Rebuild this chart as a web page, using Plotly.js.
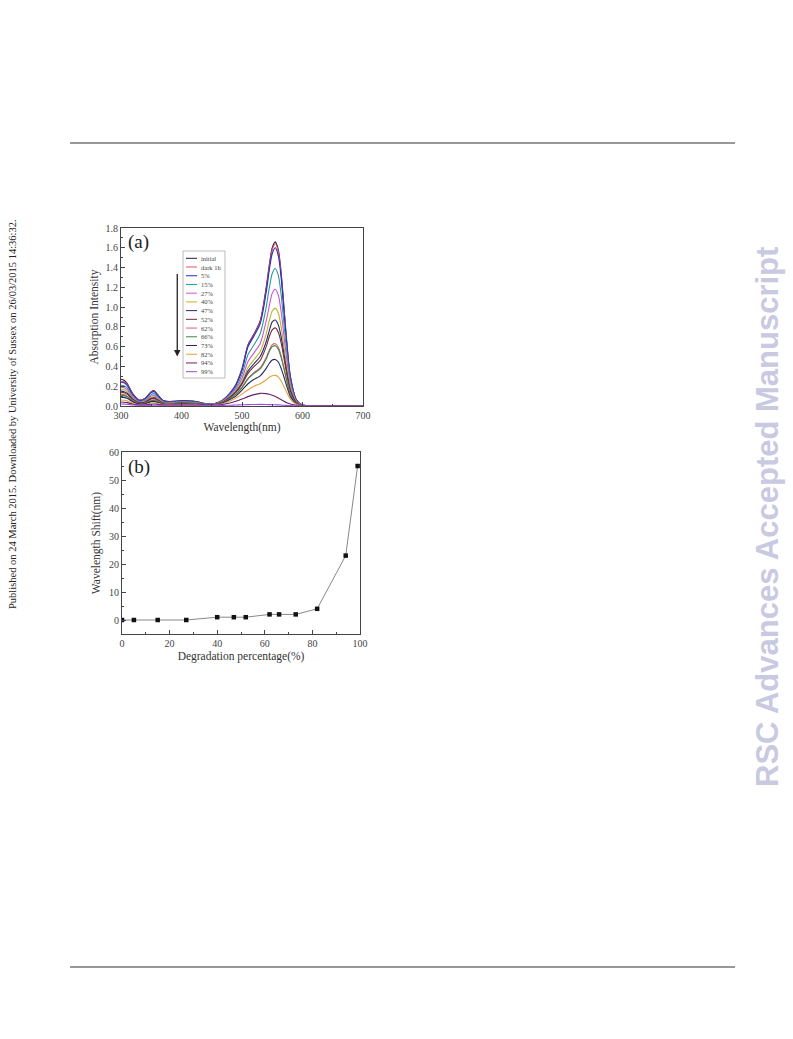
<!DOCTYPE html>
<html>
<head>
<meta charset="utf-8">
<script src="https://cdn.plot.ly/plotly-3.0.1.min.js"></script>
<style>html,body{margin:0;padding:0;background:#fff;}#chart{width:793px;height:1039px;}</style>
</head>
<body>
<div id="chart"></div>
<script>
// ---------- DATA ----------
const wavelength = [300,305,310,320,330,340,350,355,360,370,380,400,420,440,450,460,470,480,490,500,510,520,530,540,545,550,555,560,565,570,575,580,590,600,620,700];
const seriesNames = ["initial","dark 1h","5%","15%","27%","40%","47%","52%","62%","66%","73%","82%","94%","99%"];
const sInitial = [0.27,0.26,0.23,0.12,0.06,0.08,0.145,0.155,0.12,0.055,0.045,0.055,0.05,0.025,0.02,0.035,0.07,0.13,0.22,0.38,0.62,0.73,0.86,1.20,1.42,1.60,1.66,1.58,1.33,0.95,0.58,0.30,0.06,0.01,0,0];
const sDark1h  = [0.25,0.245,0.22,0.115,0.055,0.075,0.14,0.15,0.115,0.05,0.04,0.05,0.045,0.022,0.018,0.033,0.068,0.128,0.215,0.37,0.61,0.72,0.85,1.18,1.40,1.58,1.64,1.56,1.31,0.93,0.57,0.29,0.06,0.01,0,0];
const s5   = [0.24,0.235,0.21,0.11,0.053,0.072,0.135,0.145,0.11,0.05,0.04,0.05,0.045,0.022,0.018,0.033,0.066,0.125,0.21,0.36,0.60,0.71,0.83,1.15,1.37,1.54,1.60,1.52,1.28,0.91,0.56,0.285,0.06,0.01,0,0];
const s15  = [0.21,0.205,0.185,0.095,0.045,0.06,0.115,0.125,0.095,0.043,0.035,0.045,0.04,0.02,0.016,0.03,0.06,0.115,0.19,0.32,0.52,0.62,0.73,1.0,1.19,1.34,1.39,1.32,1.11,0.79,0.49,0.25,0.05,0.01,0,0];
const s27  = [0.19,0.185,0.165,0.085,0.04,0.052,0.10,0.105,0.082,0.038,0.03,0.04,0.035,0.018,0.015,0.028,0.055,0.105,0.17,0.28,0.45,0.54,0.63,0.86,1.01,1.14,1.18,1.12,0.94,0.67,0.42,0.21,0.045,0.008,0,0];
const s40  = [0.17,0.165,0.145,0.075,0.035,0.045,0.088,0.092,0.072,0.034,0.027,0.035,0.03,0.016,0.013,0.025,0.05,0.095,0.155,0.25,0.39,0.47,0.55,0.73,0.86,0.96,0.99,0.94,0.79,0.57,0.35,0.18,0.04,0.007,0,0];
const s47  = [0.15,0.145,0.13,0.067,0.032,0.04,0.078,0.082,0.064,0.03,0.024,0.03,0.027,0.015,0.012,0.023,0.046,0.088,0.145,0.23,0.355,0.43,0.50,0.65,0.76,0.85,0.87,0.82,0.69,0.50,0.31,0.16,0.035,0.006,0,0];
const s52  = [0.14,0.135,0.12,0.062,0.03,0.037,0.072,0.076,0.06,0.028,0.022,0.028,0.025,0.014,0.011,0.022,0.044,0.084,0.138,0.22,0.33,0.40,0.46,0.60,0.70,0.77,0.79,0.745,0.63,0.46,0.29,0.15,0.033,0.006,0,0];
const s62  = [0.12,0.115,0.10,0.052,0.025,0.03,0.058,0.062,0.05,0.024,0.019,0.024,0.022,0.012,0.01,0.02,0.04,0.075,0.12,0.19,0.28,0.34,0.385,0.49,0.565,0.62,0.63,0.595,0.50,0.37,0.235,0.12,0.028,0.005,0,0];
const s66  = [0.11,0.105,0.095,0.048,0.023,0.028,0.054,0.058,0.046,0.022,0.018,0.023,0.021,0.012,0.01,0.02,0.04,0.074,0.118,0.185,0.275,0.33,0.375,0.475,0.55,0.60,0.61,0.575,0.485,0.36,0.23,0.12,0.027,0.005,0,0];
const s73  = [0.09,0.087,0.078,0.04,0.019,0.022,0.044,0.047,0.038,0.018,0.015,0.02,0.018,0.01,0.009,0.018,0.035,0.065,0.10,0.16,0.225,0.27,0.305,0.38,0.43,0.465,0.47,0.445,0.375,0.28,0.18,0.095,0.022,0.004,0,0];
const s82  = [0.06,0.058,0.052,0.027,0.013,0.015,0.03,0.032,0.026,0.013,0.011,0.015,0.014,0.008,0.007,0.015,0.028,0.05,0.08,0.12,0.165,0.20,0.225,0.265,0.29,0.305,0.31,0.295,0.25,0.19,0.125,0.07,0.017,0.003,0,0];
const s94  = [0.04,0.038,0.034,0.018,0.009,0.01,0.018,0.02,0.016,0.009,0.008,0.01,0.01,0.007,0.006,0.01,0.018,0.03,0.048,0.07,0.095,0.115,0.128,0.125,0.118,0.108,0.095,0.08,0.063,0.046,0.031,0.02,0.006,0.001,0,0];
const s99  = [0.02,0.019,0.017,0.01,0.006,0.005,0.007,0.008,0.007,0.005,0.004,0.004,0.004,0.004,0.004,0.005,0.006,0.008,0.01,0.012,0.014,0.015,0.016,0.015,0.014,0.013,0.012,0.011,0.009,0.007,0.005,0.004,0.002,0.001,0,0];
const seriesColors = ["#1b1b33","#e8505b","#2b2bcc","#1e9e9e","#d84fd8","#b8b820","#26267a","#7a2a3a","#e0607e","#3c8c3c","#242466","#e3a23a","#6b1f6b","#9b4fe0"];

const degradation = [0,5,15,27,40,47,52,62,66,73,82,94,99];
const shift = [0,0,0,0,1,1,1,2,2,2,4,23,55];

const xTicksA = [300,400,500,600,700];
const yTicksA = [0,0.2,0.4,0.6,0.8,1.0,1.2,1.4,1.6,1.8];
const xTicksB = [0,20,40,60,80,100];
const yTicksB = [0,10,20,30,40,50,60];

// ---------- LAYOUT HELPERS ----------
const W = 793, H = 1039;
const px = x => x / W;
const py = y => 1 - y / H;
const serif = "Liberation Serif, Times New Roman, serif";
const tickFont = {family: serif, size: 10, color: "#444"};
const titleFont = {family: serif, size: 11.5, color: "#333"};

const allSeries = [sInitial,sDark1h,s5,s15,s27,s40,s47,s52,s62,s66,s73,s82,s94,s99];
const traces = allSeries.map((s, i) => ({
  type: "scatter", mode: "lines", x: wavelength, y: s, name: seriesNames[i],
  line: {color: seriesColors[i], width: 1.1, shape: "spline", smoothing: 0.8},
  xaxis: "x", yaxis: "y", hoverinfo: "skip"
}));
traces.push({
  type: "scatter", mode: "lines+markers", x: degradation, y: shift,
  line: {color: "#888", width: 1}, marker: {symbol: "square", size: 4.5, color: "#111"},
  xaxis: "x2", yaxis: "y2", hoverinfo: "skip"
});

const axisCommon = {
  showline: true, mirror: true, linecolor: "#444", linewidth: 1,
  ticks: "inside", ticklen: 4, tickcolor: "#444", tickfont: tickFont,
  showgrid: false, zeroline: false, fixedrange: true
};

// manual legend
const shapes = [];
const annotations = [];
const legTop = 258.3, legStep = 8.72;
shapes.push({type: "rect", xref: "paper", yref: "paper", x0: px(183), x1: px(225), y0: py(378), y1: py(251),
  line: {color: "#bbb", width: 1}, fillcolor: "rgba(255,255,255,0)"});
seriesNames.forEach((n, i) => {
  const yy = legTop + i * legStep;
  shapes.push({type: "line", xref: "paper", yref: "paper", x0: px(186), x1: px(197), y0: py(yy), y1: py(yy),
    line: {color: seriesColors[i], width: 1}});
  annotations.push({xref: "paper", yref: "paper", x: px(199), y: py(yy), xanchor: "left", yanchor: "middle",
    text: n, showarrow: false, font: {family: serif, size: 6.5, color: "#444"}});
});

// page rules
shapes.push({type: "line", xref: "paper", yref: "paper", x0: px(70), x1: px(735), y0: py(143), y1: py(143), line: {color: "#333", width: 1}});
shapes.push({type: "line", xref: "paper", yref: "paper", x0: px(70), x1: px(735), y0: py(967), y1: py(967), line: {color: "#333", width: 1}});

// arrow
annotations.push({xref: "x", yref: "y", axref: "x", ayref: "y", x: 393, y: 0.50, ax: 393, ay: 1.35,
  showarrow: true, arrowhead: 2, arrowsize: 1, arrowwidth: 1.3, arrowcolor: "#222", text: ""});

// panel labels
annotations.push({xref: "paper", yref: "paper", x: px(126), y: py(242), xanchor: "left", yanchor: "middle",
  text: "(a)", showarrow: false, font: {family: serif, size: 19, color: "#222"}});
annotations.push({xref: "paper", yref: "paper", x: px(126), y: py(467), xanchor: "left", yanchor: "middle",
  text: "(b)", showarrow: false, font: {family: serif, size: 19, color: "#222"}});

// side texts
annotations.push({xref: "paper", yref: "paper", x: px(12), y: py(414), xanchor: "center", yanchor: "middle",
  text: "Published on 24 March 2015. Downloaded by University of Sussex on 26/03/2015 14:36:32.",
  textangle: -90, showarrow: false, font: {family: serif, size: 10.5, color: "#222"}});
annotations.push({xref: "paper", yref: "paper", x: px(767), y: py(517), xanchor: "center", yanchor: "middle",
  text: "<b>RSC Advances Accepted Manuscript</b>",
  textangle: -90, showarrow: false, font: {family: "Liberation Sans, Arial, sans-serif", size: 31, color: "#c9c9e2"}});

const layout = {
  width: W, height: H, margin: {l: 0, r: 0, t: 0, b: 0},
  paper_bgcolor: "#fff", plot_bgcolor: "#fff", showlegend: false,
  xaxis: Object.assign({}, axisCommon, {domain: [px(121), px(363)], range: [300, 700], anchor: "y",
    tickvals: xTicksA, minor: {dtick: 50, tick0: 300, ticks: "inside", ticklen: 2, tickcolor: "#444"},
    title: {text: "Wavelength(nm)", font: titleFont, standoff: 0}}),
  yaxis: Object.assign({}, axisCommon, {domain: [py(406), py(228)], range: [0, 1.8], anchor: "x",
    tickvals: yTicksA, tickformat: ".1f", minor: {dtick: 0.1, tick0: 0, ticks: "inside", ticklen: 2, tickcolor: "#444"},
    title: {text: "Absorption Intensity", font: titleFont, standoff: 4}}),
  xaxis2: Object.assign({}, axisCommon, {domain: [px(122), px(360)], range: [0, 100], anchor: "y2",
    tickvals: xTicksB, minor: {dtick: 10, tick0: 0, ticks: "inside", ticklen: 2, tickcolor: "#444"},
    title: {text: "Degradation percentage(%)", font: titleFont, standoff: 3}}),
  yaxis2: Object.assign({}, axisCommon, {domain: [py(634), py(452)], range: [-5, 60], anchor: "x2",
    tickvals: yTicksB, minor: {dtick: 5, tick0: 0, ticks: "inside", ticklen: 2, tickcolor: "#444"},
    title: {text: "Wavelength Shift(nm)", font: titleFont, standoff: 5}}),
  shapes: shapes, annotations: annotations
};

Plotly.newPlot("chart", traces, layout, {staticPlot: true, displayModeBar: false});
</script>
</body>
</html>
